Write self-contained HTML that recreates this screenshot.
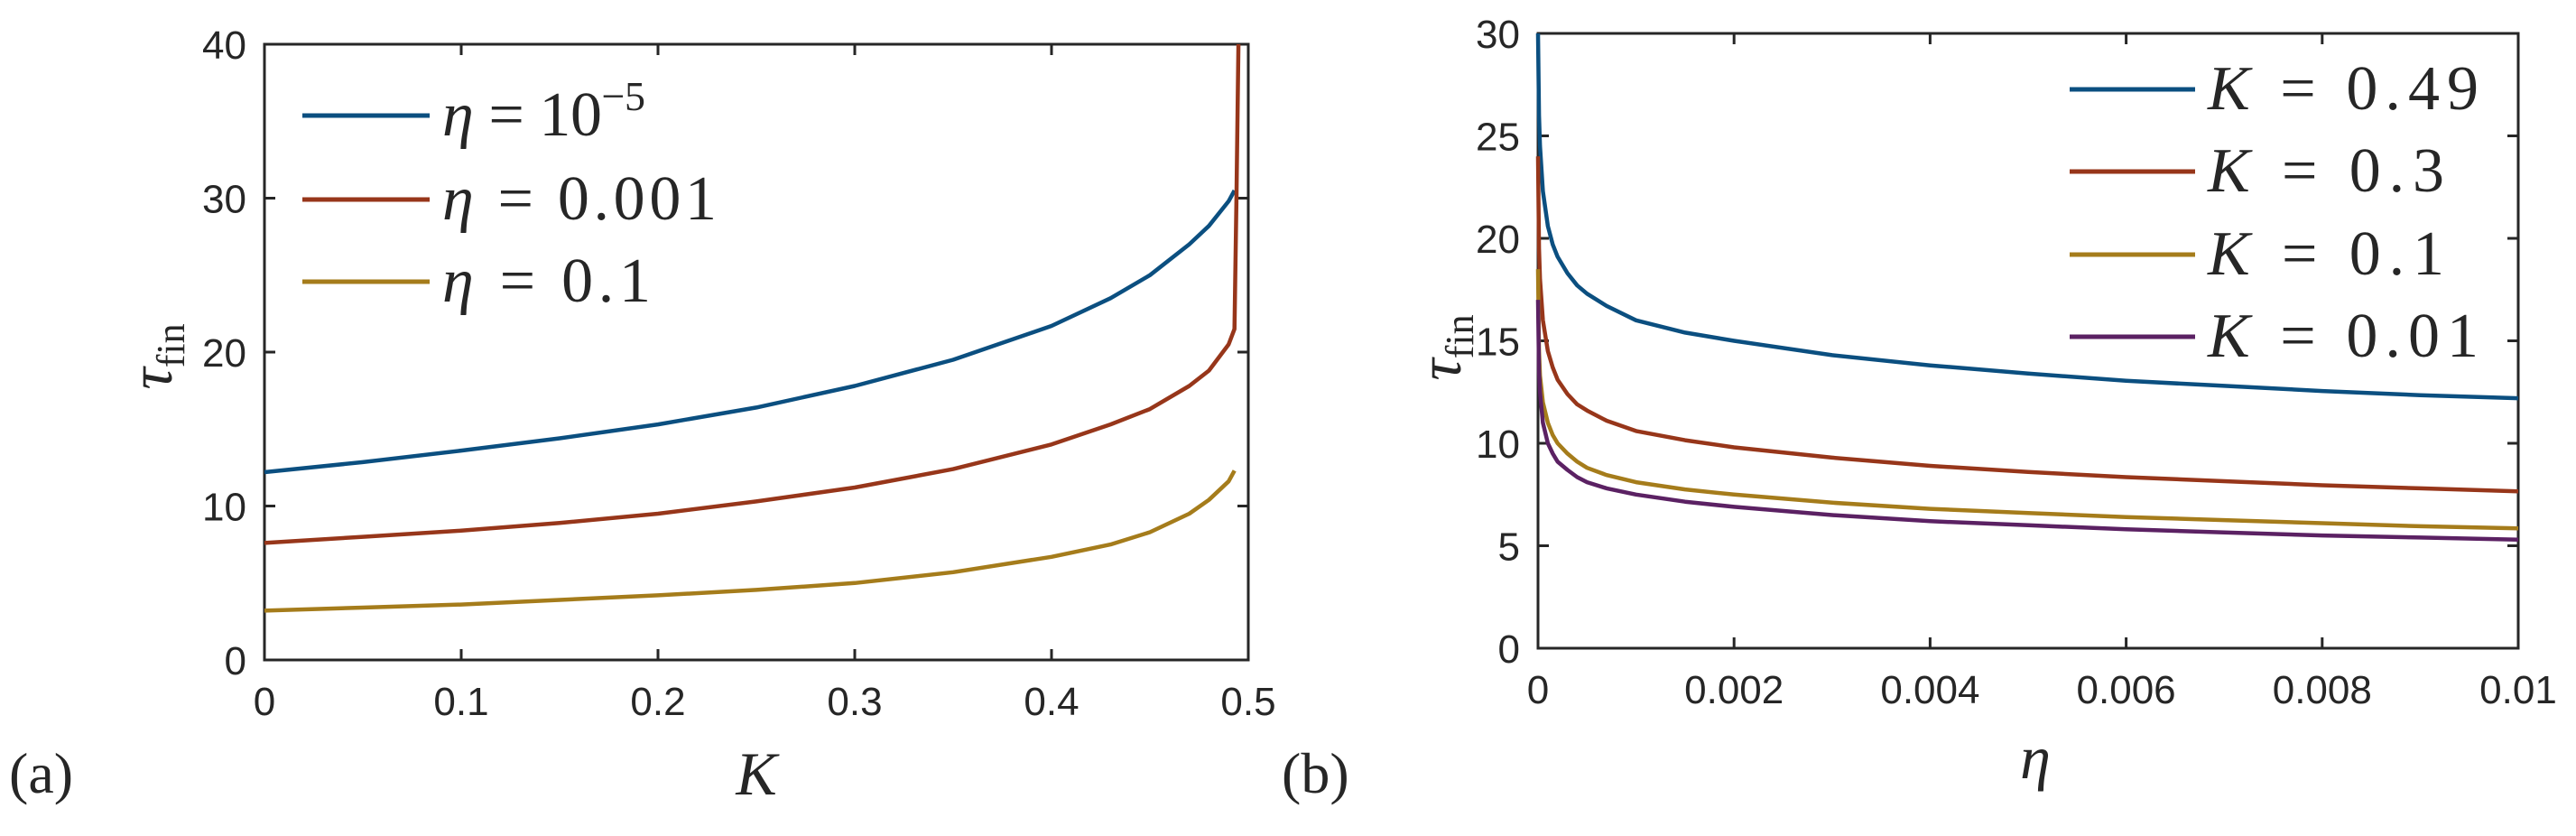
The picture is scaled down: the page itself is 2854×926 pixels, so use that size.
<!DOCTYPE html>
<html><head><meta charset="utf-8"><style>
body{margin:0;background:#fff;}
svg{display:block;}
text{fill:#262626;}
</style></head><body>
<svg id="chart" width="2854" height="926" viewBox="0 0 2854 926" xmlns="http://www.w3.org/2000/svg">
<g id="pa"></g>
<g id="pb"></g>
<text x="10" y="878" font-family="Liberation Serif, serif" font-size="64">(a)</text>
<text x="1420" y="878" font-family="Liberation Serif, serif" font-size="64">(b)</text>
<text x="838" y="880" text-anchor="middle" font-family="Liberation Serif, serif" font-style="italic" font-size="68">K</text>
<text x="2255" y="862" text-anchor="middle" font-family="Liberation Serif, serif" font-style="italic" font-size="68">η</text>
<text transform="translate(190,395) rotate(-90)" text-anchor="middle" font-family="Liberation Serif, serif" font-size="68"><tspan font-style="italic">τ</tspan><tspan font-size="44" dy="14">fin</tspan></text>
<text transform="translate(1618,385) rotate(-90)" text-anchor="middle" font-family="Liberation Serif, serif" font-size="68"><tspan font-style="italic">τ</tspan><tspan font-size="44" dy="14">fin</tspan></text>
</svg>
<script>
const NS='http://www.w3.org/2000/svg';
// Panel a data
const aK=[0,0.05,0.1,0.15,0.2,0.25,0.3,0.35,0.4,0.43,0.45,0.47,0.48,0.49,0.493];
const aBlue=[12.2,12.85,13.6,14.4,15.3,16.4,17.8,19.5,21.7,23.5,25,27,28.2,29.8,30.5];
const aRed=[7.6,8.0,8.4,8.9,9.5,10.3,11.2,12.4,14.0,15.3,16.3,17.8,18.8,20.5,21.5];
const aGold=[3.2,3.4,3.6,3.9,4.2,4.55,5.0,5.7,6.7,7.5,8.3,9.5,10.4,11.6,12.3];
const aRedTailK=[0.493,0.494,0.495];
const aRedTailV=[21.5,30,40];
const aXTicks=[0,0.1,0.2,0.3,0.4,0.5];
const aXTickLabels=['0','0.1','0.2','0.3','0.4','0.5'];
const aYTicks=[0,10,20,30,40];
const aLegend=['η = 10','η = 0.001','η = 0.1'];
const aLegendW=[225,304,231];
// Panel b data
const bEta=[0,0.00001,0.00002,0.00005,0.0001,0.00015,0.0002,0.0003,0.0004,0.0005,0.0007,0.001,0.0015,0.002,0.003,0.004,0.005,0.006,0.007,0.008,0.009,0.01];
const bBlue=[30,26,24.5,22.3,20.6,19.7,19.1,18.3,17.7,17.3,16.7,16.0,15.4,15.0,14.3,13.8,13.4,13.05,12.8,12.55,12.35,12.2];
const bRed=[24,19.5,18,16,14.5,13.7,13.1,12.4,11.9,11.6,11.1,10.6,10.15,9.8,9.3,8.9,8.6,8.35,8.15,7.95,7.8,7.65];
const bGold=[18.5,14.5,13.3,12,11.0,10.4,10.0,9.5,9.1,8.8,8.45,8.1,7.75,7.5,7.1,6.8,6.6,6.4,6.25,6.1,5.95,5.85];
const bPurple=[17,13.5,12.5,11,10.0,9.5,9.1,8.7,8.35,8.1,7.8,7.5,7.15,6.9,6.5,6.2,6.0,5.8,5.65,5.5,5.4,5.3];
const bXTicks=[0,0.002,0.004,0.006,0.008,0.01];
const bXTickLabels=['0','0.002','0.004','0.006','0.008','0.01'];
const bYTicks=[0,5,10,15,20,25,30];
const bLegend=['K = 0.49','K = 0.3','K = 0.1','K = 0.01'];
const bLegendW=[300,262,262,300];
const C={blue:'#0b4f80',red:'#97361a',gold:'#a57c1b',purple:'#5b2163'};

function el(tag,attrs,parent){const e=document.createElementNS(NS,tag);for(const k in attrs)e.setAttribute(k,attrs[k]);parent.appendChild(e);return e;}

function panel(g,box,xmax,ymax,xt,xtl,yt,pfx){
  const sx=v=>box.l+(box.r-box.l)*v/xmax, sy=v=>box.b-(box.b-box.t)*v/ymax;
  const ax=el('rect',{x:box.l,y:box.t,width:box.r-box.l,height:box.b-box.t,fill:'none',stroke:'#262626','stroke-width':3},g);
  
  
  xt.forEach((v,i)=>{
    const x=sx(v);
    el('line',{x1:x,y1:box.b,x2:x,y2:box.b-12,stroke:'#262626','stroke-width':3},g);
    el('line',{x1:x,y1:box.t,x2:x,y2:box.t+12,stroke:'#262626','stroke-width':3},g);
    const t=el('text',{x:x,y:box.b+61,'text-anchor':'middle','font-family':'Liberation Sans, sans-serif','font-size':44},g);
    t.textContent=xtl[i];
    
    
  });
  yt.forEach(v=>{
    const y=sy(v);
    el('line',{x1:box.l,y1:y,x2:box.l+12,y2:y,stroke:'#262626','stroke-width':3},g);
    el('line',{x1:box.r,y1:y,x2:box.r-12,y2:y,stroke:'#262626','stroke-width':3},g);
    const t=el('text',{x:box.l-20,y:y+16,'text-anchor':'end','font-family':'Liberation Sans, sans-serif','font-size':44},g);
    t.textContent=String(v);
    
    
  });
  return {sx,sy};
}
function line(g,xs,ys,s,color,name){
  const p=el('polyline',{points:xs.map((x,i)=>s.sx(x).toFixed(1)+','+s.sy(ys[i]).toFixed(1)).join(' '),fill:'none',stroke:color,'stroke-width':4.5,'stroke-linejoin':'round'},g);
  
  
}
function legend(g,x1,x2,ys,colors,labels,widths,pfx,sup){
  labels.forEach((lab,i)=>{
    const l=el('line',{x1:x1,y1:ys[i],x2:x2,y2:ys[i],stroke:colors[i],'stroke-width':5},g);
    
    
    const parts=lab.split(' = ');
    const t=el('text',{x:x2+14,y:ys[i]+22,'font-family':'Liberation Serif, serif','font-size':70,textLength:widths[i],lengthAdjust:'spacing'},g);
    
    
    const a=el('tspan',{'font-style':'italic'},t);a.textContent=parts[0];
    const b=el('tspan',{},t);b.textContent=' = '+parts[1];
    if(sup&&i===0){const c=el('tspan',{dy:-28,'font-size':46},t);c.textContent='−5';}
  });
}
const ga=document.getElementById('pa');
const sa=panel(ga,{l:293,r:1383,t:49,b:731},0.5,40,aXTicks,aXTickLabels,aYTicks,'a');
line(ga,aK,aBlue,sa,C.blue,'series-eta-1e-5');
line(ga,aK.concat(aRedTailK),aRed.concat(aRedTailV),sa,C.red,'series-eta-0.001');
line(ga,aK,aGold,sa,C.gold,'series-eta-0.1');
legend(ga,335,476,[128,221,312],[C.blue,C.red,C.gold],aLegend,aLegendW,'a',true);

const gb=document.getElementById('pb');
const sb=panel(gb,{l:1704,r:2790,t:37,b:718},0.01,30,bXTicks,bXTickLabels,bYTicks,'b');
line(gb,bEta,bBlue,sb,C.blue,'series-K-0.49');
line(gb,bEta,bRed,sb,C.red,'series-K-0.3');
line(gb,bEta,bGold,sb,C.gold,'series-K-0.1');
line(gb,bEta,bPurple,sb,C.purple,'series-K-0.01');
legend(gb,2293,2432,[99,190,282,373],[C.blue,C.red,C.gold,C.purple],bLegend,bLegendW,'b',false);
</script>
</body></html>
